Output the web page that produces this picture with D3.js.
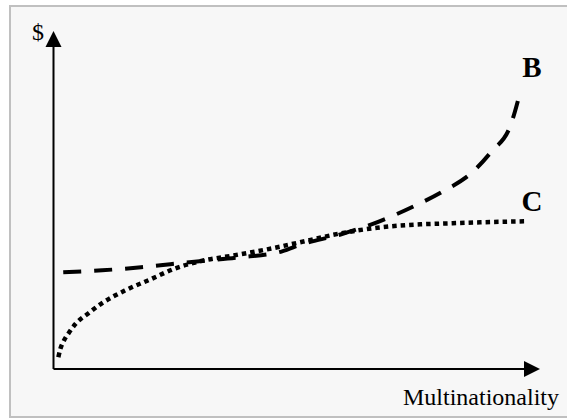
<!DOCTYPE html>
<html>
<head>
<meta charset="utf-8">
<script src="https://cdn.jsdelivr.net/npm/d3@7"></script>
<style>
html,body{margin:0;padding:0;background:#ffffff;}
svg{display:block;}
</style>
</head>
<body>
<svg id="chart" width="567" height="418"></svg>
<script>
// Data (x: multinationality 0-100, y: $ 0-100)
const seriesNames = ["B", "C"];
const bX = [2, 10, 18, 24, 30, 38, 47, 51, 59, 67, 74, 80, 86, 90, 94, 96];
const bY = [28.6, 29.2, 30.1, 31.0, 31.9, 33.0, 34.8, 36.9, 39.8, 43.7, 48.1, 52.5, 58.1, 64.3, 72.3, 82.3];
const cX = [1.0, 1.4, 2.1, 3.1, 4.5, 7.2, 9.7, 14.8, 19.9, 25.1, 30.2, 37.0, 43.9, 50.7, 58.9, 67.1, 75.4, 81.5, 87.7, 97.5];
const cY = [3.5, 5.9, 8.3, 10.6, 13.3, 16.5, 19.2, 23.3, 26.5, 29.8, 31.9, 33.6, 35.4, 37.5, 40.1, 41.9, 42.8, 43.1, 43.4, 43.7];
const xLabel = "Multinationality";
const yLabel = "$";

const svg = d3.select("#chart");

// frame
svg.append("rect")
  .attr("x", 10).attr("y", 6)
  .attr("width", 580).attr("height", 411)
  .attr("fill", "#f7f7f7")
  .attr("stroke", "#c0c0c0")
  .attr("stroke-width", 2);

const x = d3.scaleLinear().domain([0, 100]).range([53.5, 540]);
const y = d3.scaleLinear().domain([0, 100]).range([369, 31]);

// axes with arrowheads
const axisG = svg.append("g");
axisG.append("line")
  .attr("x1", x(0)).attr("y1", y(0))
  .attr("x2", x(0)).attr("y2", y(100) + 14)
  .attr("stroke", "#000").attr("stroke-width", 2);
axisG.append("line")
  .attr("x1", x(0)).attr("y1", y(0))
  .attr("x2", x(100) - 14).attr("y2", y(0))
  .attr("stroke", "#000").attr("stroke-width", 2);
// y arrow
axisG.append("path")
  .attr("d", `M${x(0)},${y(100)} L${x(0) + 8},${y(100) + 16} L${x(0) - 8},${y(100) + 16} Z`)
  .attr("fill", "#000");
// x arrow
axisG.append("path")
  .attr("d", `M${x(100)},${y(0)} L${x(100) - 16},${y(0) - 8} L${x(100) - 16},${y(0) + 8} Z`)
  .attr("fill", "#000");

axisG.append("text")
  .attr("x", 44).attr("y", 40)
  .attr("text-anchor", "end")
  .attr("font-family", "'Liberation Serif', 'Times New Roman', serif")
  .attr("font-size", 24)
  .text(yLabel);

axisG.append("text")
  .attr("x", 559).attr("y", 405)
  .attr("text-anchor", "end")
  .attr("font-family", "'Liberation Serif', 'Times New Roman', serif")
  .attr("font-size", 24)
  .text(xLabel);

const line = d3.line()
  .x(d => x(d[0]))
  .y(d => y(d[1]))
  .curve(d3.curveMonotoneX);

const bData = bX.map((v, i) => [v, bY[i]]);
const cData = cX.map((v, i) => [v, cY[i]]);

svg.append("path")
  .datum(cData)
  .attr("d", line)
  .attr("fill", "none")
  .attr("stroke", "#000")
  .attr("stroke-width", 4.5)
  .attr("stroke-dasharray", "4.5,4");

svg.append("path")
  .datum(bData)
  .attr("d", line)
  .attr("fill", "none")
  .attr("stroke", "#000")
  .attr("stroke-width", 4)
  .attr("stroke-dasharray", "18,13");

// series labels
svg.append("text")
  .attr("x", 532).attr("y", 77)
  .attr("text-anchor", "middle")
  .attr("font-family", "'Liberation Serif', 'Times New Roman', serif")
  .attr("font-weight", "bold")
  .attr("font-size", 29)
  .text(seriesNames[0]);

svg.append("text")
  .attr("x", 532).attr("y", 211)
  .attr("text-anchor", "middle")
  .attr("font-family", "'Liberation Serif', 'Times New Roman', serif")
  .attr("font-weight", "bold")
  .attr("font-size", 29)
  .text(seriesNames[1]);
</script>
</body>
</html>
